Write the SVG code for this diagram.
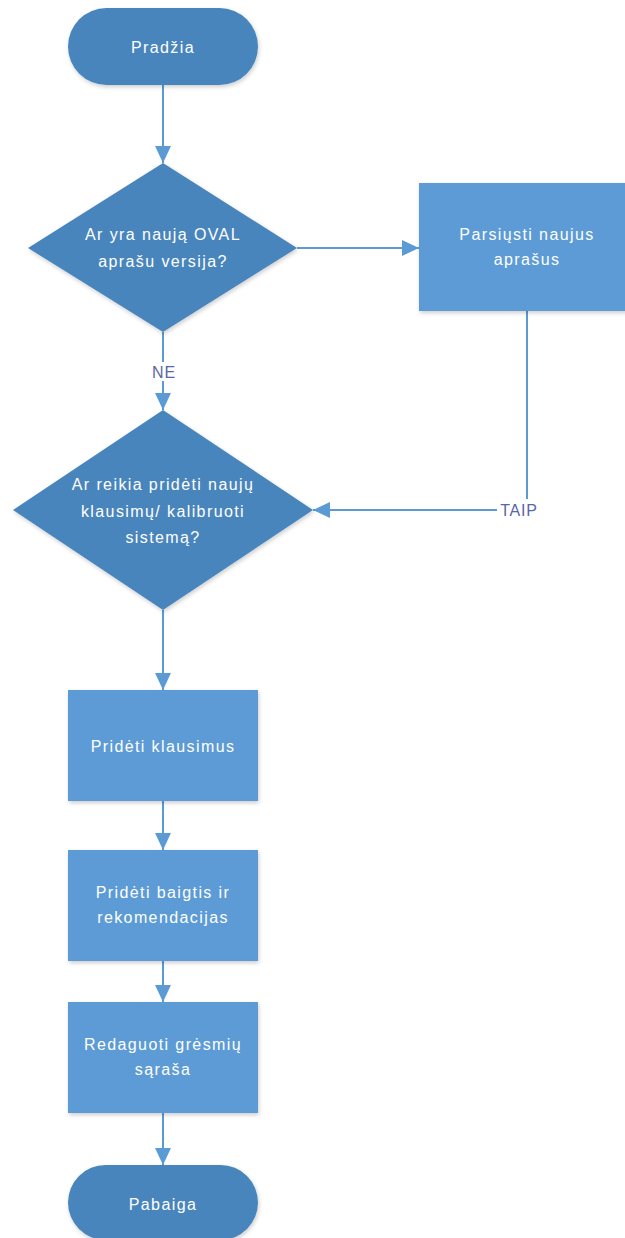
<svg xmlns="http://www.w3.org/2000/svg" width="625" height="1238" viewBox="0 0 625 1238">
  <defs>
    <marker id="arrow" viewBox="0 0 17 16" refX="17" refY="8" markerWidth="17" markerHeight="16" markerUnits="userSpaceOnUse" orient="auto">
      <path d="M0,0 L17,8 L0,16 Z" fill="#5b9bd5"/>
    </marker>
    <filter id="shadow" x="-10%" y="-10%" width="125%" height="125%">
      <feGaussianBlur in="SourceAlpha" stdDeviation="2"/>
      <feOffset dx="1" dy="2" result="b"/>
      <feComponentTransfer><feFuncA type="linear" slope="0.2"/></feComponentTransfer>
      <feMerge><feMergeNode/><feMergeNode in="SourceGraphic"/></feMerge>
    </filter>
    <style>
      .term, .dec { fill: #4a85bd; filter: url(#shadow); }
      .proc { fill: #5b9bd5; filter: url(#shadow); }
      .lbl { font-family: "Liberation Sans", Arial, sans-serif; font-size: 16px; letter-spacing: 1.4px; fill: #ffffff; text-anchor: middle; }
      .edge { stroke: #5b9bd5; stroke-width: 2; fill: none; }
      .elbl { font-family: "Liberation Sans", Arial, sans-serif; font-size: 16px; letter-spacing: 0.8px; fill: #5a66a6; text-anchor: middle; }
      .ebg { fill: #ffffff; }
    </style>
  </defs>

  <!-- connectors -->
  <g id="connectors">
    <path class="edge" d="M163,85 L163,163" marker-end="url(#arrow)"/>
    <path class="edge" d="M297,248 L419,248" marker-end="url(#arrow)"/>
    <path class="edge" d="M163,332 L163,410" marker-end="url(#arrow)"/>
    <rect class="ebg" x="148" y="362" width="30" height="19"/>
    <text class="elbl" x="164" y="378">NE</text>
    <path class="edge" d="M527,311 L527,510 L313,510" marker-end="url(#arrow)"/>
    <rect class="ebg" x="497" y="499" width="44" height="20"/>
    <text class="elbl" x="519" y="516">TAIP</text>
    <path class="edge" d="M163,610 L163,690" marker-end="url(#arrow)"/>
    <path class="edge" d="M163,801 L163,850" marker-end="url(#arrow)"/>
    <path class="edge" d="M163,961 L163,1002" marker-end="url(#arrow)"/>
    <path class="edge" d="M163,1113 L163,1165" marker-end="url(#arrow)"/>
  </g>

  <!-- start -->
  <g id="start">
    <rect class="term" x="68" y="8" width="190" height="77" rx="38.5" ry="38.5"/>
    <text class="lbl" x="163" y="53">Pradžia</text>
  </g>

  <!-- decision: new OVAL definitions -->
  <g id="check-oval">
    <polygon class="dec" points="163,163 297,248 163,332 28,248"/>
    <text class="lbl" x="163" y="240">Ar yra naują OVAL</text>
    <text class="lbl" x="163" y="267">aprašu versija?</text>
  </g>

  <!-- download definitions -->
  <g id="download">
    <rect class="proc" x="419" y="183" width="216" height="128"/>
    <text class="lbl" x="527" y="240">Parsiųsti naujus</text>
    <text class="lbl" x="527" y="265">aprašus</text>
  </g>

  <!-- decision: add questions / calibrate -->
  <g id="check-questions">
    <polygon class="dec" points="163,410 313,510 163,610 13,510"/>
    <text class="lbl" x="163" y="490">Ar reikia pridėti naujų</text>
    <text class="lbl" x="163" y="517">klausimų/ kalibruoti</text>
    <text class="lbl" x="163" y="543">sistemą?</text>
  </g>

  <g id="add-questions">
    <rect class="proc" x="68" y="690" width="190" height="111"/>
    <text class="lbl" x="163" y="752">Pridėti klausimus</text>
  </g>

  <g id="add-outcomes">
    <rect class="proc" x="68" y="850" width="190" height="111"/>
    <text class="lbl" x="163" y="898">Pridėti baigtis ir</text>
    <text class="lbl" x="163" y="923">rekomendacijas</text>
  </g>

  <g id="edit-threats">
    <rect class="proc" x="68" y="1002" width="190" height="111"/>
    <text class="lbl" x="163" y="1050">Redaguoti grėsmių</text>
    <text class="lbl" x="163" y="1075">sąraša</text>
  </g>

  <!-- end -->
  <g id="end">
    <rect class="term" x="68" y="1165" width="190" height="75" rx="37.5" ry="37.5"/>
    <text class="lbl" x="163" y="1210">Pabaiga</text>
  </g>
</svg>
